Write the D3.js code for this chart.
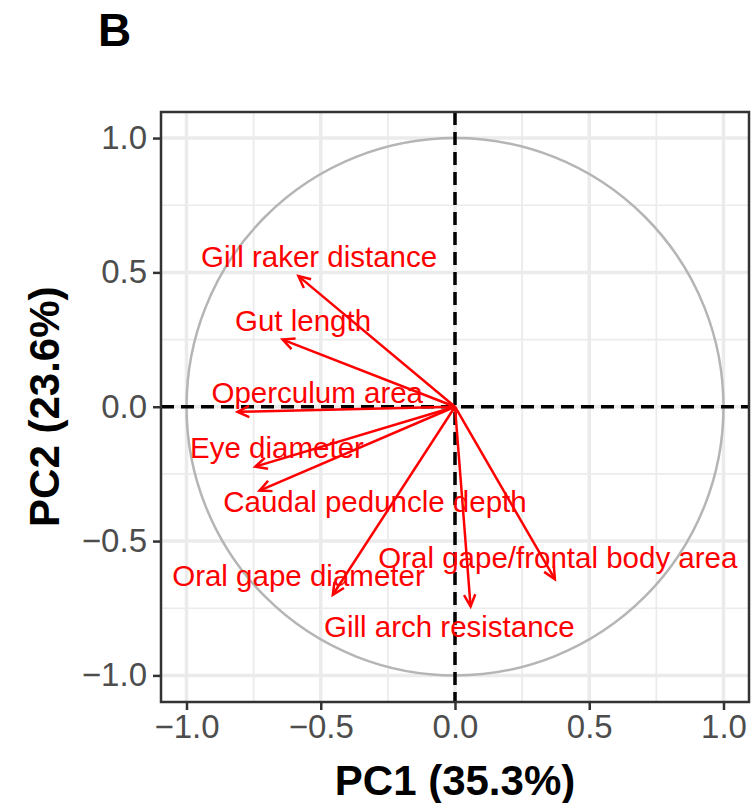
<!DOCTYPE html>
<html>
<head>
<meta charset="utf-8">
<script src="https://cdn.jsdelivr.net/npm/d3@7"></script>
<style>
  body { margin: 0; background: #fff; }
  text { font-family: "Liberation Sans", Arial, sans-serif; }
</style>
</head>
<body>
<div id="chart-area"></div>
<script>
// variable loadings (PC1, PC2)
const variables = ["Gill raker distance", "Gut length", "Operculum area", "Eye diameter",
  "Caudal peduncle depth", "Oral gape diameter", "Gill arch resistance", "Oral gape/frontal body area"];
const pc1 = [-0.583, -0.642, -0.810, -0.744, -0.728, -0.455, 0.058, 0.372];
const pc2 = [0.486, 0.250, -0.019, -0.223, -0.312, -0.700, -0.743, -0.642];
// where each label sits (centre), in the same units
const labelX = [-0.506, -0.566, -0.513, -0.663, -0.298, -0.583, -0.021, 0.383];
const labelY = [0.560, 0.322, 0.055, -0.150, -0.354, -0.626, -0.819, -0.559];
const ticks = [-1, -0.5, 0, 0.5, 1];
const minorTicks = [-0.75, -0.25, 0.25, 0.75];

const svgWidth = 754,
      svgHeight = 803;
const margin = {left: 161, right: 5, top: 112, bottom: 101};
const areaWidth = svgWidth - margin.left - margin.right;
const areaHeight = svgHeight - margin.top - margin.bottom;

const svg = d3.select("#chart-area")
  .append("svg")
  .attr("width", svgWidth)
  .attr("height", svgHeight);

const area = svg.append("g")
  .attr("transform", `translate(${margin.left}, ${margin.top})`);

const x = d3.scaleLinear().domain([-1.095, 1.095]).range([0, areaWidth]);
const y = d3.scaleLinear().domain([-1.099, 1.097]).range([areaHeight, 0]);

// grid
const grid = area.append("g");
grid.selectAll(".vminor").data(minorTicks).enter().append("line")
  .attr("x1", d => x(d)).attr("x2", d => x(d))
  .attr("y1", 0).attr("y2", areaHeight)
  .attr("stroke", "#ebebeb").attr("stroke-width", 1.7);
grid.selectAll(".hminor").data(minorTicks).enter().append("line")
  .attr("y1", d => y(d)).attr("y2", d => y(d))
  .attr("x1", 0).attr("x2", areaWidth)
  .attr("stroke", "#ebebeb").attr("stroke-width", 1.7);
grid.selectAll(".vmajor").data(ticks).enter().append("line")
  .attr("x1", d => x(d)).attr("x2", d => x(d))
  .attr("y1", 0).attr("y2", areaHeight)
  .attr("stroke", "#ebebeb").attr("stroke-width", 3.5);
grid.selectAll(".hmajor").data(ticks).enter().append("line")
  .attr("y1", d => y(d)).attr("y2", d => y(d))
  .attr("x1", 0).attr("x2", areaWidth)
  .attr("stroke", "#ebebeb").attr("stroke-width", 3.5);

// unit circle
area.append("ellipse")
  .attr("cx", x(0)).attr("cy", y(0))
  .attr("rx", x(1) - x(0)).attr("ry", y(0) - y(1))
  .attr("fill", "none")
  .attr("stroke", "#b5b5b5")
  .attr("stroke-width", 2.5);

// reference lines
area.append("line")
  .attr("x1", 0).attr("x2", areaWidth)
  .attr("y1", y(0)).attr("y2", y(0))
  .attr("stroke", "#000").attr("stroke-width", 3.5)
  .attr("stroke-dasharray", "13,7");
area.append("line")
  .attr("x1", x(0)).attr("x2", x(0))
  .attr("y1", 0).attr("y2", areaHeight)
  .attr("stroke", "#000").attr("stroke-width", 3.5)
  .attr("stroke-dasharray", "13,7");

// arrows
const loadings = variables.map((v, i) => ({name: v, pc1: pc1[i], pc2: pc2[i], lx: labelX[i], ly: labelY[i]}));
const headLen = 13, headAngle = Math.PI / 7;

const arrows = area.selectAll(".arrow").data(loadings).enter().append("g");
arrows.append("line")
  .attr("x1", x(0)).attr("y1", y(0))
  .attr("x2", d => x(d.pc1)).attr("y2", d => y(d.pc2))
  .attr("stroke", "red").attr("stroke-width", 2.5);
arrows.append("path")
  .attr("fill", "none").attr("stroke", "red").attr("stroke-width", 2.5)
  .attr("d", d => {
    const tx = x(d.pc1), ty = y(d.pc2);
    const a = Math.atan2(ty - y(0), tx - x(0));
    const p1 = [tx - headLen * Math.cos(a - headAngle), ty - headLen * Math.sin(a - headAngle)];
    const p2 = [tx - headLen * Math.cos(a + headAngle), ty - headLen * Math.sin(a + headAngle)];
    return `M${p1[0]},${p1[1]}L${tx},${ty}L${p2[0]},${p2[1]}`;
  });

area.selectAll(".label").data(loadings).enter().append("text")
  .attr("x", d => x(d.lx))
  .attr("y", d => y(d.ly))
  .attr("dy", "0.36em")
  .attr("text-anchor", "middle")
  .attr("font-size", "29.5px")
  .attr("fill", "red")
  .text(d => d.name);

// panel border
area.append("rect")
  .attr("width", areaWidth).attr("height", areaHeight)
  .attr("fill", "none").attr("stroke", "#333").attr("stroke-width", 2.5);

// axes
const fmt = d => d3.format(".1f")(d).replace("-", "\u2212");
const xAxisGroup = area.append("g")
  .attr("transform", `translate(0, ${areaHeight})`)
  .call(d3.axisBottom(x).tickValues(ticks).tickSize(8).tickPadding(5).tickFormat(fmt));
const yAxisGroup = area.append("g")
  .call(d3.axisLeft(y).tickValues(ticks).tickSize(8).tickPadding(6).tickFormat(fmt));
[xAxisGroup, yAxisGroup].forEach(g => {
  g.select(".domain").remove();
  g.selectAll(".tick line").attr("stroke", "#333").attr("stroke-width", 2.5);
  g.selectAll(".tick text")
    .attr("fill", "#4d4d4d")
    .attr("font-size", "33px")
    .attr("font-family", "Liberation Sans, Arial, sans-serif");
});

// axis titles
svg.append("text")
  .attr("x", margin.left + x(0))
  .attr("y", 795)
  .attr("text-anchor", "middle")
  .attr("font-size", "42px")
  .attr("font-weight", "bold")
  .text("PC1 (35.3%)");

svg.append("text")
  .attr("transform", `translate(59, ${margin.top + y(0)}) rotate(-90)`)
  .attr("text-anchor", "middle")
  .attr("font-size", "42px")
  .attr("font-weight", "bold")
  .text("PC2 (23.6%)");

svg.append("text")
  .attr("x", 98)
  .attr("y", 46)
  .attr("font-size", "46px")
  .attr("font-weight", "bold")
  .text("B");
</script>
</body>
</html>
